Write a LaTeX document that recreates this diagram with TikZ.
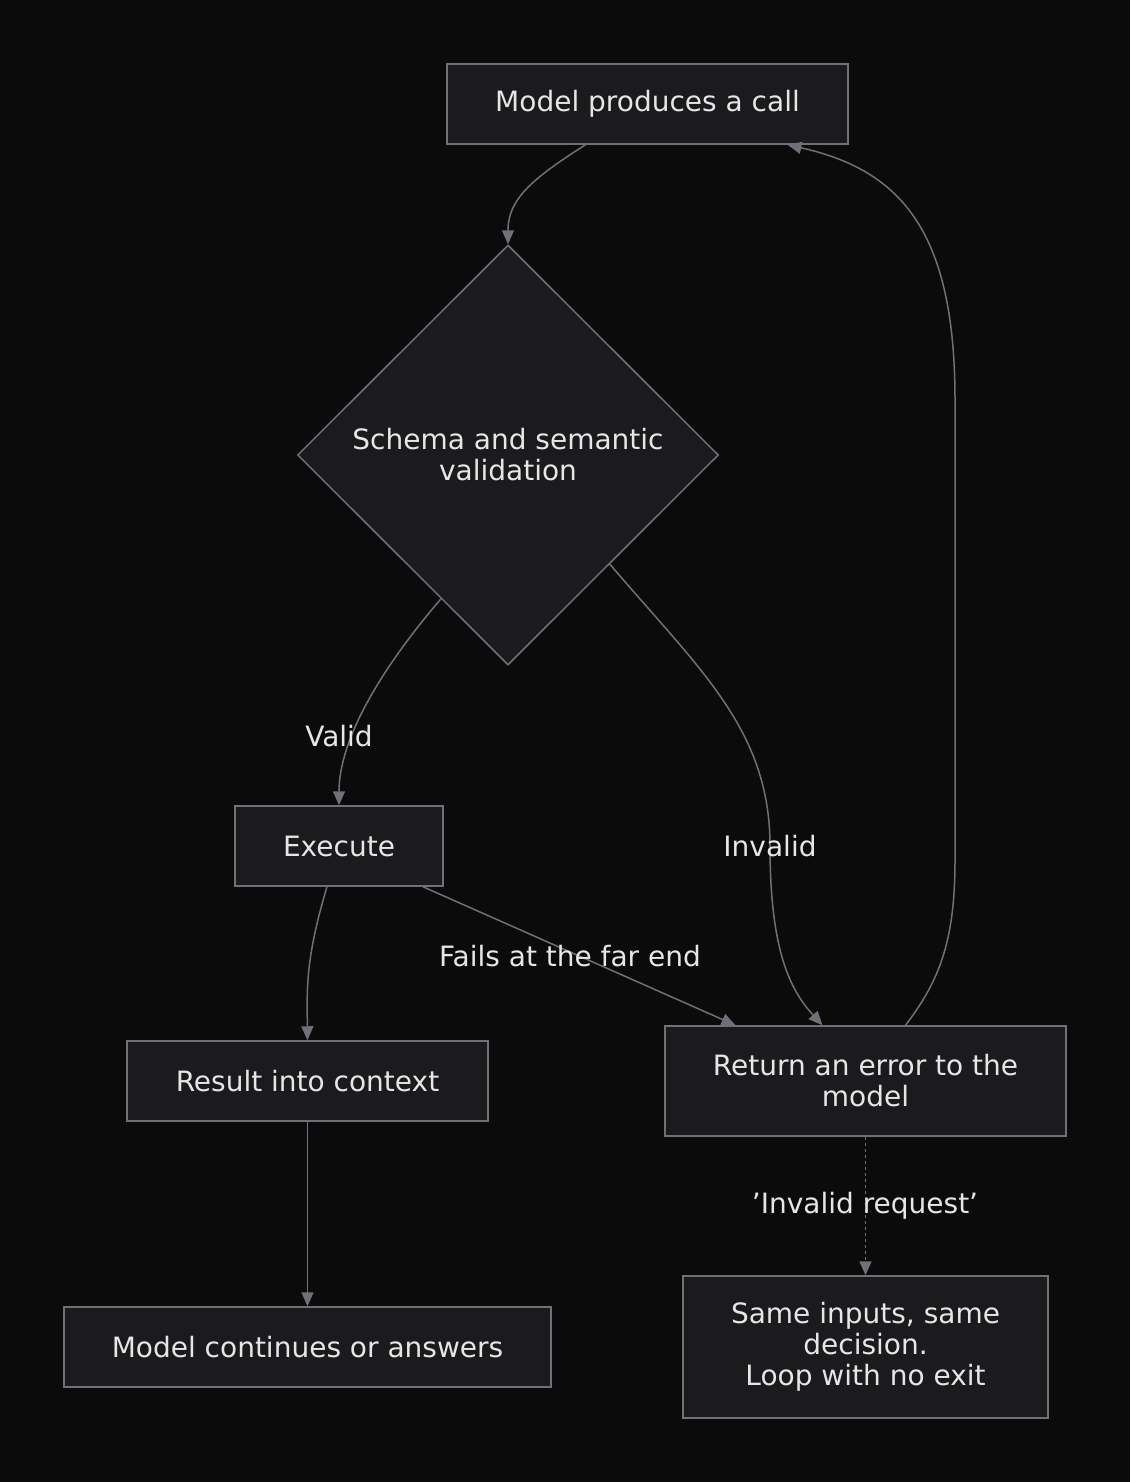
\documentclass[tikz,border=0pt]{standalone}
\usepackage{fontspec}
\setmainfont{DejaVu Sans}
\usetikzlibrary{shapes.geometric,arrows.meta}
\definecolor{bgdark}{HTML}{0B0B0C}
\definecolor{boxfill}{HTML}{1B1B1E}
\definecolor{edgegray}{HTML}{707076}
\definecolor{textlight}{HTML}{E6E6E6}
\tikzset{
  box/.style={draw=edgegray,fill=boxfill,line width=1.5pt,text=textlight,
    align=center,inner sep=0pt,font=\fontsize{28}{31}\selectfont},
  link/.style={draw=edgegray,line width=1.5pt,-{Triangle[length=14pt,width=12pt]}},
  lab/.style={text=textlight,font=\fontsize{28}{31}\selectfont}
}
\begin{document}
\begin{tikzpicture}[x=1pt,y=-1pt]
		\fill[bgdark] (0,0) rectangle (1130,1482);
		\useasboundingbox (0,0) rectangle (1130,1482);
		
		\node[box,minimum width=401pt,minimum height=80pt] (call) at (647.5,104) {Model produces a call};
		\node[box,diamond,aspect=1,minimum width=421pt,minimum height=420pt] (check) at (508,455) {Schema and semantic\\validation};
		\node[box,minimum width=208pt,minimum height=80pt] (exec) at (339,846) {Execute};
		\node[box,minimum width=361pt,minimum height=80pt] (result) at (307.5,1081) {Result into context};
		\node[box,minimum width=401pt,minimum height=110pt] (error) at (865.5,1081) {Return an error to the\\model};
		\node[box,minimum width=487pt,minimum height=80pt] (answer) at (307.5,1347) {Model continues or answers};
		\node[box,minimum width=365pt,minimum height=142pt] (loop) at (865.5,1347) {Same inputs, same\\decision.\\Loop with no exit};
		
		\draw[link] ([xshift=-62pt]call.south) .. controls (530,180) and (508,200) .. (check.north);
		\draw[link] (check.-115) .. controls (380,670) and (339,740) .. (exec.north);
		\draw[link] (check.-47) .. controls (700,670) and (770,730) .. (770,846) .. controls (770,950) and (790,990) .. ([xshift=-43pt]error.north);
		\draw[link] ([xshift=-12pt]exec.south) .. controls (305,960) and (307,990) .. (result.north);
		\draw[link] ([xshift=84pt]exec.south) -- ([xshift=-130pt]error.north);
		\draw[link] ([xshift=40pt]error.north) .. controls (940,980) and (955,940) .. (955,860) -- (955,400) .. controls (955,230) and (900,170) .. ([xshift=140pt]call.south);
		\draw[link] (result) -- (answer);
		\draw[link,dash pattern=on 3pt off 3pt] (error) -- (loop);
		
		\node[lab] (lvalid) at (339,736) {Valid};
		\node[lab] (linvalid) at (770,846) {Invalid};
		\node[lab] (lfails) at (570,956) {Fails at the far end};
		\node[lab] (lreq) at (865,1206) {'Invalid request'};
	\end{tikzpicture}
\end{document}
